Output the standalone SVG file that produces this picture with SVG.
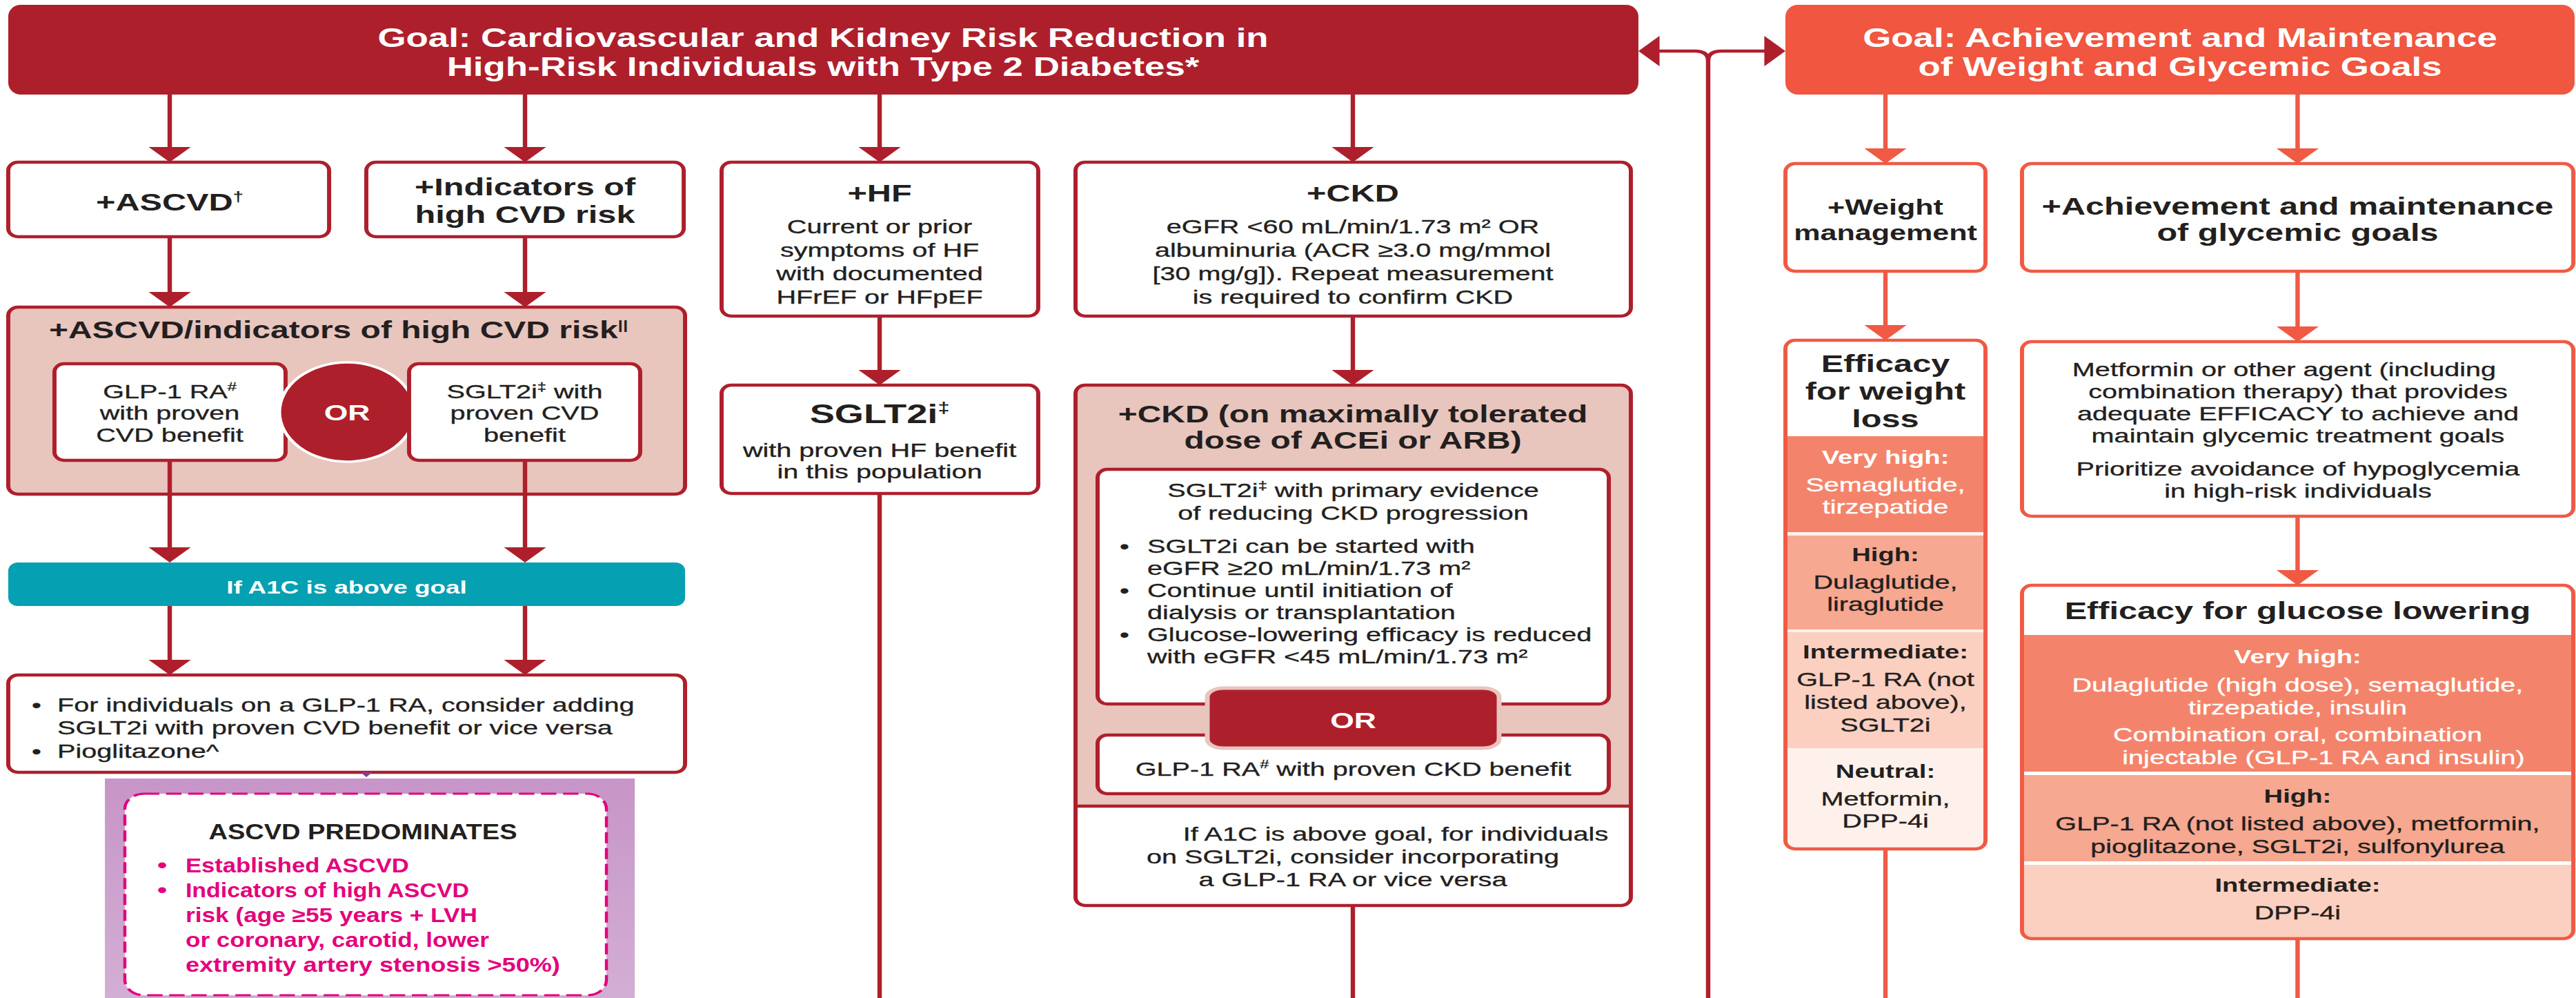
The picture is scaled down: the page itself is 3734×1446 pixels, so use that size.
<svg xmlns="http://www.w3.org/2000/svg" width="3734" height="1446" viewBox="0 0 3734 1446">
<style>
  .t{font-family:"Liberation Sans",Arial,Helvetica,sans-serif;fill:#231f20}
  .c{text-anchor:middle}
  .b{font-weight:700}
  .w{fill:#ffffff}
  .m{fill:#e4007c}
  .bd{font-size:28.5px;stroke:#231f20;stroke-width:0.35}
  .bd.w{stroke:#ffffff}
  .hd{font-size:35px;font-weight:700}
  .tier{font-size:27.5px;font-weight:700}
  .banner{font-size:38px;font-weight:700;fill:#ffffff}
  .box{fill:#ffffff;stroke:#ae1f2c;stroke-width:4.3}
  .pink{fill:#e8c5bd;stroke:#ae1f2c;stroke-width:4.3}
  .obox{fill:#ffffff;stroke:#f05a45;stroke-width:4.3}
  .edge{fill:none;stroke:#ae1f2c;stroke-width:4.3}
  .oedge{fill:none;stroke:#f05a45;stroke-width:4.3}
  .con{fill:none;stroke:#ae1f2c;stroke-width:4.6}
  .ocon{fill:none;stroke:#f05a45;stroke-width:4.6}
  .arr{marker-end:url(#ar)}
  .oarr{marker-end:url(#aro)}
</style>
<defs>
  <marker id="ar" viewBox="0 0 22 44" refX="14" refY="22" markerWidth="22" markerHeight="44" markerUnits="userSpaceOnUse" orient="auto">
    <path d="M0,0 L22,22 L0,44 Z" fill="#ae1f2c"/>
  </marker>
  <marker id="aro" viewBox="0 0 22 44" refX="14" refY="22" markerWidth="22" markerHeight="44" markerUnits="userSpaceOnUse" orient="auto">
    <path d="M0,0 L22,22 L0,44 Z" fill="#f05a45"/>
  </marker>
  <linearGradient id="pg" x1="0" y1="0" x2="0" y2="1">
    <stop offset="0" stop-color="#c795c7"/>
    <stop offset="1" stop-color="#d3aed4"/>
  </linearGradient>
</defs>

<!-- the whole layout is drawn in a horizontally compressed space and widened here -->
<g transform="scale(1.39,1)">

  <!-- goal banners -->
  <g id="goal-cv">
    <rect x="8.6" y="7" width="1700" height="130" rx="13" ry="17" fill="#ae1f2c"/>
    <text class="t banner c" x="858.3" y="68">Goal: Cardiovascular and Kidney Risk Reduction in</text>
    <text class="t banner c" x="858.3" y="110">High-Risk Individuals with Type 2 Diabetes*</text>
  </g>
  <g id="goal-weight">
    <rect x="1861.9" y="7" width="823" height="130" rx="13" ry="17" fill="#f05640"/>
    <text class="t banner c" x="2273.4" y="68">Goal: Achievement and Maintenance</text>
    <text class="t banner c" x="2273.4" y="110">of Weight and Glycemic Goals</text>
  </g>

  <!-- ASCVD branch -->
  <g id="ascvd">
    <rect class="box" x="8.6" y="235" width="334.6" height="108" rx="10" ry="12"/>
    <text class="t hd c" x="177" y="305">+ASCVD<tspan font-size="20" dy="-13">†</tspan></text>
  </g>
  <g id="cvd-risk">
    <rect class="box" x="382" y="235" width="331" height="108" rx="10" ry="12"/>
    <text class="t hd c" x="547.5" y="283">+Indicators of</text>
    <text class="t hd c" x="547.5" y="323">high CVD risk</text>
  </g>
  <g id="ascvd-combined">
    <rect class="pink" x="8.6" y="445" width="705.8" height="271" rx="10" ry="12"/>
    <text class="t b c" font-size="34.5" x="353" y="490">+ASCVD/indicators of high CVD risk<tspan font-size="19" dy="-13">||</tspan></text>
  </g>
  <g id="glp1-cvd">
    <rect class="box" x="56.8" y="527" width="241" height="140" rx="10" ry="12"/>
    <text class="t bd c" x="177" y="577">GLP-1 RA<tspan font-size="17" dy="-11">#</tspan></text>
    <text class="t bd c" x="177" y="608">with proven</text>
    <text class="t bd c" x="177" y="640">CVD benefit</text>
  </g>
  <g id="or-cvd">
    <ellipse cx="361.9" cy="597" rx="70.5" ry="72" fill="#ae1f2c" stroke="#ffffff" stroke-width="3.5"/>
    <text class="t b w c" font-size="32" x="361.9" y="609">OR</text>
  </g>
  <g id="sglt2-cvd">
    <rect class="box" x="426.6" y="527" width="241" height="140" rx="10" ry="12"/>
    <text class="t bd c" x="547.1" y="577">SGLT2i<tspan font-size="17" dy="-11">‡</tspan><tspan dy="11"> with</tspan></text>
    <text class="t bd c" x="547.1" y="608">proven CVD</text>
    <text class="t bd c" x="547.1" y="640">benefit</text>
  </g>
  <g id="a1c-cvd">
    <rect x="8.6" y="815" width="705.8" height="63" rx="10" ry="12" fill="#05a0b1"/>
    <text class="t b w c" font-size="26.5" x="361.5" y="860">If A1C is above goal</text>
  </g>
  <g id="add-on-cvd">
    <rect class="box" x="8.6" y="978" width="705.8" height="141" rx="10" ry="12"/>
    <text class="t bd" x="33.1" y="1031">•</text>
    <text class="t bd" x="59.7" y="1031">For individuals on a GLP-1 RA, consider adding</text>
    <text class="t bd" x="59.7" y="1064">SGLT2i with proven CVD benefit or vice versa</text>
    <text class="t bd" x="33.1" y="1098">•</text>
    <text class="t bd" x="59.7" y="1098">Pioglitazone^</text>
  </g>
  <g id="ascvd-predominates">
    <rect x="109.4" y="1128" width="552.5" height="318" fill="url(#pg)"/>
    <rect x="130.2" y="1150" width="502.2" height="292" rx="20" ry="22" fill="#ffffff" stroke="#e4007c" stroke-width="3.2" stroke-dasharray="16 7"/>
    <text class="t b c" font-size="32" x="378.4" y="1216" textLength="321.6" lengthAdjust="spacingAndGlyphs">ASCVD PREDOMINATES</text>
    <text class="t b m" font-size="29" x="164" y="1264">•</text>
    <text class="t b m" font-size="29" x="193.5" y="1264" textLength="233" lengthAdjust="spacingAndGlyphs">Established ASCVD</text>
    <text class="t b m" font-size="29" x="164" y="1300">•</text>
    <text class="t b m" font-size="29" x="193.5" y="1300" textLength="295.7" lengthAdjust="spacingAndGlyphs">Indicators of high ASCVD</text>
    <text class="t b m" font-size="29" x="193.5" y="1336" textLength="304.3" lengthAdjust="spacingAndGlyphs">risk (age ≥55 years + LVH</text>
    <text class="t b m" font-size="29" x="193.5" y="1372" textLength="316.5" lengthAdjust="spacingAndGlyphs">or coronary, carotid, lower</text>
    <text class="t b m" font-size="29" x="193.5" y="1408" textLength="390.6" lengthAdjust="spacingAndGlyphs">extremity artery stenosis &gt;50%)</text>
  </g>

  <!-- HF branch -->
  <g id="hf">
    <rect class="box" x="752.5" y="235" width="330.2" height="223" rx="10" ry="12"/>
    <text class="t hd c" x="917.3" y="292">+HF</text>
    <text class="t bd c" x="917.3" y="338">Current or prior</text>
    <text class="t bd c" x="917.3" y="372">symptoms of HF</text>
    <text class="t bd c" x="917.3" y="406">with documented</text>
    <text class="t bd c" x="917.3" y="440">HFrEF or HFpEF</text>
  </g>
  <g id="sglt2-hf">
    <rect class="box" x="752.5" y="558" width="330.2" height="157" rx="10" ry="12"/>
    <text class="t b c" font-size="39" x="917.3" y="613">SGLT2i<tspan font-size="22" dy="-15">‡</tspan></text>
    <text class="t bd c" x="917.3" y="662">with proven HF benefit</text>
    <text class="t bd c" x="917.3" y="693">in this population</text>
  </g>

  <!-- CKD branch -->
  <g id="ckd">
    <rect class="box" x="1121.6" y="235" width="579.1" height="223" rx="10" ry="12"/>
    <text class="t hd c" x="1410.8" y="292">+CKD</text>
    <text class="t bd c" x="1410.8" y="338">eGFR &lt;60 mL/min/1.73 m² OR</text>
    <text class="t bd c" x="1410.8" y="372">albuminuria (ACR ≥3.0 mg/mmol</text>
    <text class="t bd c" x="1410.8" y="406">[30 mg/g]). Repeat measurement</text>
    <text class="t bd c" x="1410.8" y="440">is required to confirm CKD</text>
  </g>
  <g id="ckd-treated">
    <rect x="1121.6" y="558" width="579.1" height="754" rx="10" ry="12" fill="#ffffff"/>
    <path d="M1121.6,1168 V570 Q1121.6,558 1131.6,558 H1690.7 Q1700.7,558 1700.7,570 V1168 Z" fill="#e8c5bd"/>
    <rect class="edge" x="1121.6" y="558" width="579.1" height="754" rx="10" ry="12"/>
    <line class="edge" x1="1121.6" y1="1168" x2="1700.7" y2="1168"/>
    <text class="t b c" font-size="34.5" x="1410.8" y="612">+CKD (on maximally tolerated</text>
    <text class="t b c" font-size="34.5" x="1410.8" y="650">dose of ACEi or ARB)</text>
    <text class="t bd c" x="1455.4" y="1218">If A1C is above goal, for individuals</text>
    <text class="t bd c" x="1410.8" y="1251">on SGLT2i, consider incorporating</text>
    <text class="t bd c" x="1410.8" y="1284">a GLP-1 RA or vice versa</text>
  </g>
  <g id="sglt2-ckd">
    <rect class="box" x="1144.6" y="680" width="533.1" height="340" rx="10" ry="12"/>
    <text class="t bd c" x="1411.2" y="720">SGLT2i<tspan font-size="17" dy="-11">‡</tspan><tspan dy="11"> with primary evidence</tspan></text>
    <text class="t bd c" x="1411.2" y="753">of reducing CKD progression</text>
    <text class="t bd" x="1167.6" y="801">•</text>
    <text class="t bd" x="1196.4" y="801">SGLT2i can be started with</text>
    <text class="t bd" x="1196.4" y="833">eGFR ≥20 mL/min/1.73 m²</text>
    <text class="t bd" x="1167.6" y="865">•</text>
    <text class="t bd" x="1196.4" y="865">Continue until initiation of</text>
    <text class="t bd" x="1196.4" y="897">dialysis or transplantation</text>
    <text class="t bd" x="1167.6" y="929">•</text>
    <text class="t bd" x="1196.4" y="929">Glucose-lowering efficacy is reduced</text>
    <text class="t bd" x="1196.4" y="961">with eGFR &lt;45 mL/min/1.73 m²</text>
  </g>
  <g id="glp1-ckd">
    <rect class="box" x="1144.6" y="1065" width="533.1" height="85" rx="10" ry="12"/>
    <text class="t bd c" x="1411.2" y="1124">GLP-1 RA<tspan font-size="17" dy="-11">#</tspan><tspan dy="11"> with proven CKD benefit</tspan></text>
  </g>
  <g id="or-ckd">
    <rect x="1259" y="997" width="304.3" height="87" rx="17" ry="13" fill="#ae1f2c" stroke="#e8c5bd" stroke-width="5"/>
    <text class="t b w c" font-size="32" x="1411.2" y="1055">OR</text>
  </g>

  <!-- weight branch -->
  <g id="weight">
    <rect class="obox" x="1861.9" y="237" width="208.6" height="156" rx="10" ry="12"/>
    <text class="t b c" font-size="31" x="1966.2" y="311">+Weight</text>
    <text class="t b c" font-size="31" x="1966.2" y="348">management</text>
  </g>
  <g id="weight-efficacy">
    <rect x="1861.9" y="493" width="208.6" height="737" rx="10" ry="12" fill="#fef1ec"/>
    <path d="M1861.9,632 V505 Q1861.9,493 1871.9,493 H2060.5 Q2070.5,493 2070.5,505 V632 Z" fill="#ffffff"/>
    <rect x="1861.9" y="632" width="208.6" height="139" fill="#f3846b"/>
    <rect x="1861.9" y="776" width="208.6" height="136" fill="#f6a890"/>
    <rect x="1861.9" y="916" width="208.6" height="168" fill="#fbd0c0"/>
    <rect class="oedge" x="1861.9" y="493" width="208.6" height="737" rx="10" ry="12"/>
    <text class="t hd c" x="1966.2" y="539">Efficacy</text>
    <text class="t hd c" x="1966.2" y="579">for weight</text>
    <text class="t hd c" x="1966.2" y="619">loss</text>
    <text class="t tier w c" x="1966.2" y="672">Very high:</text>
    <text class="t bd w c" x="1966.2" y="712">Semaglutide,</text>
    <text class="t bd w c" x="1966.2" y="744">tirzepatide</text>
    <text class="t tier c" x="1966.2" y="813">High:</text>
    <text class="t bd c" x="1966.2" y="853">Dulaglutide,</text>
    <text class="t bd c" x="1966.2" y="885">liraglutide</text>
    <text class="t tier c" x="1966.2" y="954">Intermediate:</text>
    <text class="t bd c" x="1966.2" y="994">GLP-1 RA (not</text>
    <text class="t bd c" x="1966.2" y="1027">listed above),</text>
    <text class="t bd c" x="1966.2" y="1060">SGLT2i</text>
    <text class="t tier c" x="1966.2" y="1127">Neutral:</text>
    <text class="t bd c" x="1966.2" y="1167">Metformin,</text>
    <text class="t bd c" x="1966.2" y="1199">DPP-4i</text>
  </g>

  <!-- glycemic branch -->
  <g id="glycemic">
    <rect class="obox" x="2108.6" y="237" width="574.9" height="156" rx="10" ry="12"/>
    <text class="t hd c" x="2396" y="311">+Achievement and maintenance</text>
    <text class="t hd c" x="2396" y="349">of glycemic goals</text>
  </g>
  <g id="metformin">
    <rect class="obox" x="2108.6" y="495" width="574.9" height="253" rx="10" ry="12"/>
    <text class="t bd c" x="2382" y="545">Metformin or other agent (including</text>
    <text class="t bd c" x="2396.4" y="577">combination therapy) that provides</text>
    <text class="t bd c" x="2396.4" y="609">adequate EFFICACY to achieve and</text>
    <text class="t bd c" x="2396.4" y="641">maintain glycemic treatment goals</text>
    <text class="t bd c" x="2396.4" y="689">Prioritize avoidance of hypoglycemia</text>
    <text class="t bd c" x="2396.4" y="721">in high-risk individuals</text>
  </g>
  <g id="glucose-efficacy">
    <rect x="2108.6" y="848" width="574.9" height="512" rx="10" ry="12" fill="#fbd0c0"/>
    <path d="M2108.6,920 V860 Q2108.6,848 2118.6,848 H2673.5 Q2683.5,848 2683.5,860 V920 Z" fill="#ffffff"/>
    <rect x="2108.6" y="920" width="574.9" height="198" fill="#f3846b"/>
    <rect x="2108.6" y="1118" width="574.9" height="5" fill="#ffffff"/>
    <rect x="2108.6" y="1123" width="574.9" height="125" fill="#f6a890"/>
    <rect x="2108.6" y="1248" width="574.9" height="5" fill="#ffffff"/>
    <rect class="oedge" x="2108.6" y="848" width="574.9" height="512" rx="10" ry="12"/>
    <text class="t hd c" x="2396" y="897">Efficacy for glucose lowering</text>
    <text class="t tier w c" x="2396" y="961">Very high:</text>
    <text class="t bd w c" x="2396" y="1002">Dulaglutide (high dose), semaglutide,</text>
    <text class="t bd w c" x="2396" y="1035">tirzepatide, insulin</text>
    <text class="t bd w c" x="2396" y="1074">Combination oral, combination</text>
    <text class="t bd w c" x="2423" y="1107">injectable (GLP-1 RA and insulin)</text>
    <text class="t tier c" x="2396" y="1163">High:</text>
    <text class="t bd c" x="2396" y="1203">GLP-1 RA (not listed above), metformin,</text>
    <text class="t bd c" x="2396" y="1236">pioglitazone, SGLT2i, sulfonylurea</text>
    <text class="t tier c" x="2396" y="1292">Intermediate:</text>
    <text class="t bd c" x="2396" y="1332">DPP-4i</text>
  </g>

  <!-- connectors -->
  <g id="connectors">
    <path class="con arr" d="M177,137 V227"/>
    <path class="con arr" d="M547.5,137 V227"/>
    <path class="con arr" d="M917.3,137 V227"/>
    <path class="con arr" d="M1410.8,137 V227"/>
    <path class="con arr" d="M177,343 V437"/>
    <path class="con arr" d="M547.5,343 V437"/>
    <path class="con arr" d="M177,667 V807"/>
    <path class="con arr" d="M547.5,667 V807"/>
    <path class="con arr" d="M177,878 V970"/>
    <path class="con arr" d="M547.5,878 V970"/>
    <path d="M376,1119 H388 L382,1126 Z" fill="#8a3d8f"/>
    <path class="con arr" d="M917.3,458 V550"/>
    <path class="con" d="M917.3,715 V1446"/>
    <path class="con arr" d="M1410.8,458 V550"/>
    <path class="con" d="M1410.8,1312 V1446"/>
    <path class="con arr" d="M1781.3,1446 V88 Q1781.3,74 1767.3,74 H1716.6"/>
    <path class="con arr" d="M1781.3,88 Q1781.3,74 1795.3,74 H1853.9"/>
    <path class="ocon oarr" d="M1966.2,137 V229"/>
    <path class="ocon oarr" d="M2396,137 V229"/>
    <path class="ocon oarr" d="M1966.2,393 V485"/>
    <path class="ocon oarr" d="M2396,393 V487"/>
    <path class="ocon oarr" d="M2396,748 V840"/>
    <path class="ocon" d="M1966.2,1230 V1446"/>
    <path class="ocon" d="M2396,1360 V1446"/>
  </g>
</g>
</svg>
